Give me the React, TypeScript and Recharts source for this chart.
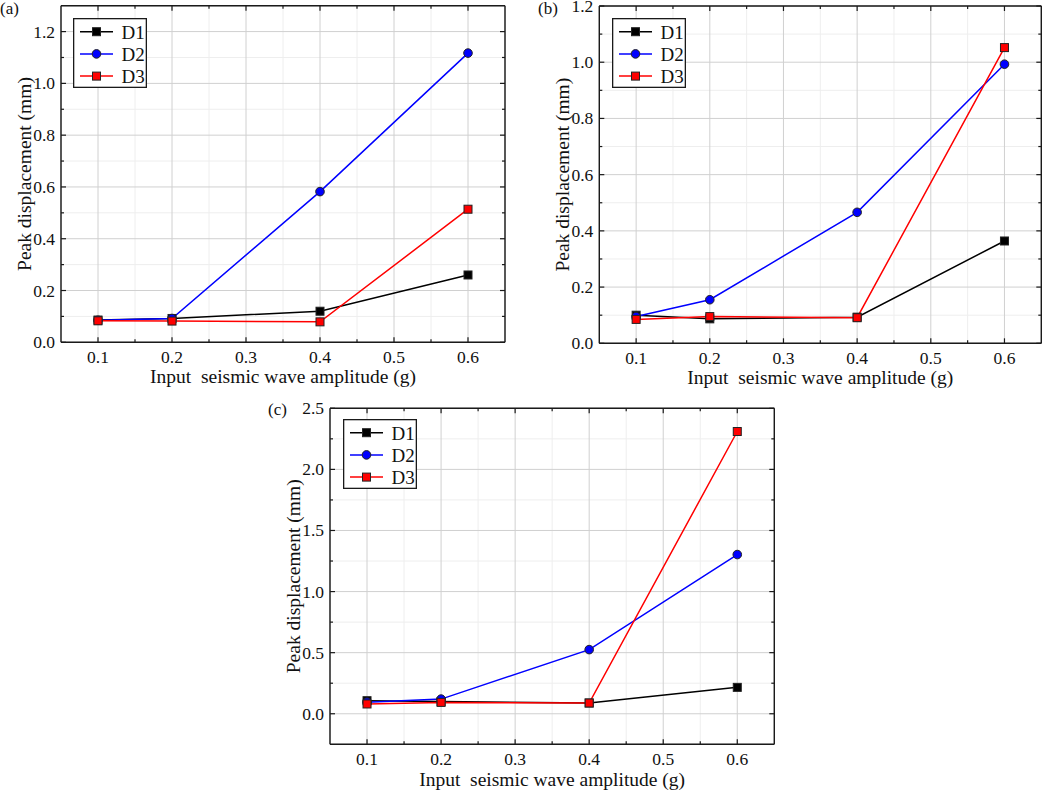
import React from 'react';
import { LineChart, Line, XAxis, YAxis, CartesianGrid, Legend, Label } from 'recharts';

// ---------- data ----------
const amplitudes = [0.1, 0.2, 0.4, 0.6];

const aD1 = [0.086, 0.092, 0.12, 0.26];
const aD2 = [0.085, 0.092, 0.582, 1.117];
const aD3 = [0.083, 0.082, 0.079, 0.514];

const bD1 = [0.1, 0.087, 0.093, 0.364];
const bD2 = [0.095, 0.155, 0.466, 0.993];
const bD3 = [0.085, 0.095, 0.091, 1.052];

const cD1 = [0.107, 0.1, 0.088, 0.216];
const cD2 = [0.095, 0.12, 0.525, 1.303];
const cD3 = [0.08, 0.093, 0.088, 2.31];

const xMajorTicks = [0.1, 0.2, 0.3, 0.4, 0.5, 0.6];
const xMinorTicks = [0.15, 0.25, 0.35, 0.45, 0.55];
const yMajorAB = [0, 0.2, 0.4, 0.6, 0.8, 1.0, 1.2];
const yMinorAB = [0.1, 0.3, 0.5, 0.7, 0.9, 1.1];
const yMajorC = [0, 0.5, 1.0, 1.5, 2.0, 2.5];
const yMinorC = [0.25, 0.75, 1.25, 1.75, 2.25];

const seriesNames = ['D1', 'D2', 'D3'];
const seriesColors = ['#000000', '#0000ff', '#ff0000'];
const seriesShapes = ['square', 'circle', 'square'];

const xTitle = 'Input\u00a0 seismic wave amplitude (g)';
const yTitle = 'Peak displacement (mm)';

// ---------- styles ----------
const SERIF = '"Liberation Serif", "Times New Roman", Times, serif';
const AXIS = '#1a1a1a';
const MAJOR_GRID = '#d0d0d0';
const MINOR_GRID = '#eeeeee';
const TICK_FS = 17.5;
const TITLE_FS = 19.5;

const buildRows = (d1: number[], d2: number[], d3: number[]) =>
  amplitudes.map((x, i) => ({ x, D1: d1[i], D2: d2[i], D3: d3[i] }));

const isIn = (arr: number[], v: number) => arr.some((m) => Math.abs(m - v) < 1e-6);

const bottomTick = (majors: number[]) => (p: any) => {
  const { x, y, payload } = p;
  const v = payload.value;
  const major = isIn(majors, v);
  return (
    <g>
      <line x1={x} x2={x} y1={y} y2={y - (major ? 5 : 3)} stroke={AXIS} strokeWidth={1.2} />
      {major && (
        <text x={x} y={y + 15} textAnchor="middle" dominantBaseline="central" fontSize={TICK_FS} fontFamily={SERIF} fill="#111">
          {v.toFixed(1)}
        </text>
      )}
    </g>
  );
};

const topTick = (majors: number[]) => (p: any) => {
  const { x, y, payload } = p;
  const major = isIn(majors, payload.value);
  return <line x1={x} x2={x} y1={y} y2={y + (major ? 5 : 3)} stroke={AXIS} strokeWidth={1.2} />;
};

const leftTick = (majors: number[]) => (p: any) => {
  const { x, y, payload } = p;
  const v = payload.value;
  const major = isIn(majors, v);
  return (
    <g>
      <line x1={x} x2={x + (major ? 5 : 3)} y1={y} y2={y} stroke={AXIS} strokeWidth={1.2} />
      {major && (
        <text x={x - 6} y={y} textAnchor="end" dominantBaseline="central" fontSize={TICK_FS} fontFamily={SERIF} fill="#111">
          {v.toFixed(1)}
        </text>
      )}
    </g>
  );
};

const rightTick = (majors: number[]) => (p: any) => {
  const { x, y, payload } = p;
  const major = isIn(majors, payload.value);
  return <line x1={x} x2={x - (major ? 5 : 3)} y1={y} y2={y} stroke={AXIS} strokeWidth={1.2} />;
};

const squareDot = (fill: string) => (p: any) => {
  const { cx, cy, index } = p;
  if (cx == null || cy == null) return <g key={`n${index}`} />;
  return <rect key={`s${index}`} x={cx - 4} y={cy - 4} width={8} height={8} fill={fill} stroke="#222" strokeWidth={1} />;
};

const LegendBox = (props: any) => {
  const payload = props.payload || [];
  const w = 74;
  const h = 70;
  return (
    <svg width={w} height={h} style={{ display: 'block' }}>
      <rect x={0.65} y={0.65} width={w - 1.3} height={h - 1.3} fill="#fff" stroke={AXIS} strokeWidth={1.3} />
      {payload.map((entry: any, i: number) => {
        const idx = seriesNames.indexOf(entry.value);
        const color = seriesColors[idx] ?? entry.color;
        const shape = seriesShapes[idx] ?? 'square';
        const cy = 13.7 + 22.2 * i;
        return (
          <g key={entry.value}>
            <line x1={7} x2={40} y1={cy} y2={cy} stroke={color} strokeWidth={1.5} />
            {shape === 'circle' ? (
              <circle cx={23.5} cy={cy} r={4.3} fill={color} stroke="#222" strokeWidth={1} />
            ) : (
              <rect x={19.5} y={cy - 4} width={8} height={8} fill={color} stroke="#222" strokeWidth={1} />
            )}
            <text x={48.5} y={cy + 0.5} dominantBaseline="central" fontSize={19} fontFamily={SERIF} fill="#111">
              {entry.value}
            </text>
          </g>
        );
      })}
    </svg>
  );
};

type PanelProps = {
  rows: any[];
  yDomain: [number, number];
  yMajor: number[];
  yMinor: number[];
  box: { x: number; y: number; w: number; h: number };
  margin: { top: number; right: number; bottom: number; left: number };
  legend: { x: number; y: number };
  xLabelOffset: number;
};

const LEFT_W = 20;
const BOTTOM_H = 20;

function Panel({ rows, yDomain, yMajor, yMinor, box, margin, legend, xLabelOffset }: PanelProps) {
  const xAll = [...xMajorTicks, ...xMinorTicks].sort((a, b) => a - b);
  const yAll = [...yMajor, ...yMinor].sort((a, b) => a - b);
  const xDomain: [number, number] = [0.05, 0.65];
  return (
    <div style={{ position: 'absolute', left: box.x, top: box.y, width: box.w, height: box.h }}>
      <LineChart width={box.w} height={box.h} data={rows} margin={margin}>
        <XAxis xAxisId="gmaj" dataKey="x" type="number" domain={xDomain} allowDataOverflow ticks={xMajorTicks} hide />
        <XAxis xAxisId="gmin" dataKey="x" type="number" domain={xDomain} allowDataOverflow ticks={xMinorTicks} hide />
        <YAxis yAxisId="gmaj" type="number" domain={yDomain} allowDataOverflow ticks={yMajor} hide />
        <YAxis yAxisId="gmin" type="number" domain={yDomain} allowDataOverflow ticks={yMinor} hide />
        <CartesianGrid xAxisId="gmin" yAxisId="gmin" stroke={MINOR_GRID} strokeWidth={1} />
        <CartesianGrid xAxisId="gmaj" yAxisId="gmaj" stroke={MAJOR_GRID} strokeWidth={1} />

        <XAxis
          dataKey="x"
          type="number"
          domain={xDomain}
          allowDataOverflow
          ticks={xAll}
          interval={0}
          height={BOTTOM_H}
          tickSize={0}
          tickMargin={0}
          tickLine={false}
          tick={bottomTick(xMajorTicks)}
          axisLine={{ stroke: AXIS, strokeWidth: 1.4 }}
        >
          <Label
            value={xTitle}
            position="bottom"
            offset={xLabelOffset}
            fontSize={TITLE_FS}
            fontFamily={SERIF}
            fill="#111"
            style={{ textAnchor: 'middle', fontSize: TITLE_FS, fontFamily: SERIF, fill: '#111' }}
          />
        </XAxis>
        <XAxis
          xAxisId="top"
          orientation="top"
          dataKey="x"
          type="number"
          domain={xDomain}
          allowDataOverflow
          ticks={xAll}
          interval={0}
          height={1}
          tickSize={0}
          tickMargin={0}
          tickLine={false}
          tick={topTick(xMajorTicks)}
          axisLine={{ stroke: AXIS, strokeWidth: 1.4 }}
        />
        <YAxis
          type="number"
          domain={yDomain}
          allowDataOverflow
          ticks={yAll}
          interval={0}
          width={LEFT_W}
          tickSize={0}
          tickMargin={0}
          tickLine={false}
          tick={leftTick(yMajor)}
          axisLine={{ stroke: AXIS, strokeWidth: 1.4 }}
        >
          <Label
            value={yTitle}
            angle={-90}
            position="left"
            offset={37 - LEFT_W}
            fontSize={TITLE_FS}
            fontFamily={SERIF}
            fill="#111"
            style={{ textAnchor: 'middle', fontSize: TITLE_FS, fontFamily: SERIF, fill: '#111' }}
          />
        </YAxis>
        <YAxis
          yAxisId="right"
          orientation="right"
          type="number"
          domain={yDomain}
          allowDataOverflow
          ticks={yAll}
          interval={0}
          width={1}
          tickSize={0}
          tickMargin={0}
          tickLine={false}
          tick={rightTick(yMajor)}
          axisLine={{ stroke: AXIS, strokeWidth: 1.4 }}
        />

        <Legend
          layout="vertical"
          align="center"
          verticalAlign="middle"
          content={<LegendBox />}
          wrapperStyle={{ position: 'absolute', left: legend.x, top: legend.y, width: 74, height: 70 }}
        />

        <Line
          type="linear"
          dataKey="D1"
          name={seriesNames[0]}
          stroke={seriesColors[0]}
          strokeWidth={1.5}
          dot={squareDot(seriesColors[0])}
          activeDot={false}
          isAnimationActive={false}
        />
        <Line
          type="linear"
          dataKey="D2"
          name={seriesNames[1]}
          stroke={seriesColors[1]}
          strokeWidth={1.5}
          dot={{ r: 4.3, fill: seriesColors[1], stroke: '#222', strokeWidth: 1 }}
          activeDot={false}
          isAnimationActive={false}
        />
        <Line
          type="linear"
          dataKey="D3"
          name={seriesNames[2]}
          stroke={seriesColors[2]}
          strokeWidth={1.5}
          dot={squareDot(seriesColors[2])}
          activeDot={false}
          isAnimationActive={false}
        />
      </LineChart>
    </div>
  );
}

const panelLabelStyle: React.CSSProperties = {
  position: 'absolute',
  fontFamily: SERIF,
  fontSize: 17,
  lineHeight: '17px',
  color: '#111',
  whiteSpace: 'nowrap',
};

export default function App() {
  const rowsA = buildRows(aD1, aD2, aD3);
  const rowsB = buildRows(bD1, bD2, bD3);
  const rowsC = buildRows(cD1, cD2, cD3);
  return (
    <div style={{ position: 'absolute', left: 0, top: 0, width: 1045, height: 791, background: '#fff', overflow: 'hidden' }}>
      <Panel
        rows={rowsA}
        yDomain={[0, 1.3]}
        yMajor={yMajorAB}
        yMinor={yMinorAB}
        box={{ x: 0, y: 0, w: 520, h: 400 }}
        margin={{ top: 4.7, right: 14, bottom: 57.7 - BOTTOM_H, left: 61 - LEFT_W }}
        legend={{ x: 73, y: 18 }}
        xLabelOffset={27 - BOTTOM_H}
      />
      <Panel
        rows={rowsB}
        yDomain={[0, 1.2]}
        yMajor={yMajorAB}
        yMinor={yMinorAB}
        box={{ x: 520, y: 0, w: 525, h: 400 }}
        margin={{ top: 5, right: 2.7, bottom: 56.7 - BOTTOM_H, left: 79.3 - LEFT_W }}
        legend={{ x: 92, y: 18 }}
        xLabelOffset={27 - BOTTOM_H}
      />
      <Panel
        rows={rowsC}
        yDomain={[-0.25, 2.5]}
        yMajor={yMajorC}
        yMinor={yMinorC}
        box={{ x: 250, y: 380, w: 540, h: 411 }}
        margin={{ top: 27.3, right: 14.7, bottom: 46.7 - BOTTOM_H, left: 80 - LEFT_W }}
        legend={{ x: 92.7, y: 39 }}
        xLabelOffset={28 - BOTTOM_H}
      />
      <div style={{ ...panelLabelStyle, left: 0, top: -0.5 }}>(a)</div>
      <div style={{ ...panelLabelStyle, left: 538, top: -0.5 }}>(b)</div>
      <div style={{ ...panelLabelStyle, left: 268, top: 401 }}>(c)</div>
    </div>
  );
}
